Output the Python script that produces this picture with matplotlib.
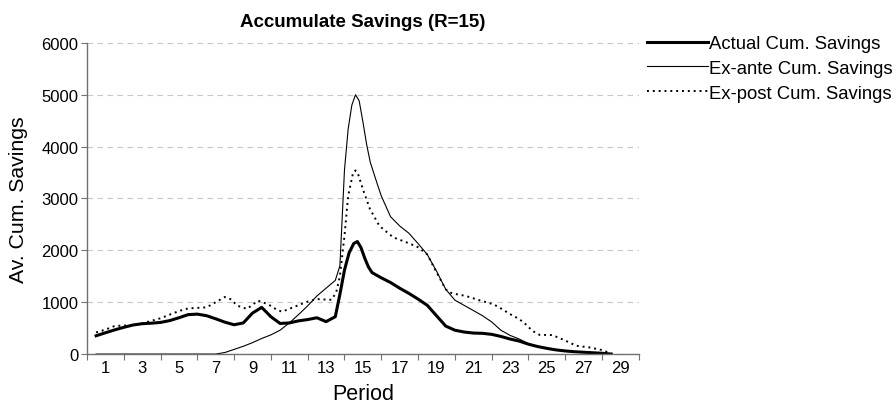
import matplotlib
matplotlib.use("Agg")
import matplotlib.pyplot as plt
from matplotlib.ticker import MultipleLocator, FixedLocator, NullFormatter

plt.rcParams["font.family"] = ["Liberation Sans", "DejaVu Sans"]

# --------------------------------------------------------
# Data
# --------------------------------------------------------
actual_x = [0.5, 1.0, 1.5, 2.0, 2.5, 3.0, 3.5, 4.0, 4.5, 5.0, 5.5, 6.0, 6.5,
            7.0, 7.5, 8.0, 8.5, 9.0, 9.5, 10.0, 10.5, 11.0, 11.5, 12.0, 12.5,
            13.0, 13.5, 13.75, 14.0, 14.25, 14.5, 14.7, 14.9, 15.1, 15.3,
            15.5, 16.0, 16.5, 17.0, 17.5, 18.0, 18.5, 19.0, 19.5, 20.0, 20.5,
            21.0, 21.5, 22.0, 22.5, 23.0, 23.5, 24.0, 24.5, 25.0, 25.5, 26.0,
            26.5, 27.0, 27.5, 28.0, 28.5]
actual_y = [353, 410, 465, 515, 560, 585, 595, 610, 645, 700, 760, 770, 740,
            680, 615, 565, 600, 790, 900, 720, 590, 600, 640, 665, 700,
            625, 720, 1150, 1620, 1950, 2130, 2170, 2050, 1850, 1680,
            1570, 1470, 1380, 1270, 1170, 1060, 940, 740, 540, 460, 425,
            405, 400, 380, 340, 290, 250, 190, 145, 110, 80, 60,
            45, 35, 25, 15, 0]

exante_x = [0.5, 7.0, 7.5, 8.0, 8.5, 9.0, 9.5, 10.0, 10.5, 11.0, 11.5, 12.0,
            12.5, 13.0, 13.5, 13.75, 14.0, 14.2, 14.4, 14.6, 14.8, 15.0,
            15.2, 15.4, 15.8, 16.0, 16.5, 17.0, 17.5, 18.0, 18.5, 19.0, 19.5,
            20.0, 20.5, 21.0, 21.5, 22.0, 22.5, 23.0, 23.5, 24.0, 24.5, 25.0,
            25.5, 26.0, 26.5, 27.0, 27.5, 28.0, 28.5]
exante_y = [0, 0, 30, 90, 150, 220, 300, 370, 460, 600, 760, 930,
            1120, 1270, 1420, 1700, 3550, 4340, 4800, 5000, 4880, 4480,
            4050, 3700, 3260, 3050, 2650, 2470, 2330, 2130, 1920, 1600, 1250,
            1040, 940, 840, 740, 620, 460, 360, 290, 200, 150, 110,
            80, 60, 45, 35, 25, 15, 0]

expost_x = [0.5, 1.0, 1.5, 2.0, 2.5, 3.0, 3.5, 4.0, 4.5, 5.0, 5.5, 6.0, 6.5,
            7.0, 7.5, 7.8, 8.2, 8.7, 9.3, 9.85, 10.3, 10.6, 11.2, 11.9, 12.5,
            13.0, 13.3, 13.55, 13.75, 14.0, 14.2, 14.47, 14.6, 14.74, 15.0,
            15.38, 15.9, 16.65, 17.4, 18.0, 18.5, 19.0, 19.5, 19.7, 20.0,
            20.6, 21.4, 22.1, 22.5, 23.0, 23.5, 23.9, 24.2, 24.6, 25.3, 25.9,
            26.6, 27.3, 28.0, 28.5]
expost_y = [418, 470, 540, 550, 560, 590, 640, 690, 760, 830, 880, 890, 900,
            1000, 1100, 1060, 930, 870, 1030, 960, 860, 816, 900, 1000, 1060,
            1050, 1047, 1190, 1500, 2280, 3050, 3500, 3540, 3470, 3180,
            2800, 2470, 2250, 2150, 2060, 1920, 1580, 1250, 1190, 1160,
            1120, 1030, 960, 880, 770, 675, 560, 450, 370, 366, 276,
            160, 129, 77, 10]

x_labels = list(range(1, 30, 2))

# --------------------------------------------------------
# Figure
# --------------------------------------------------------
fig = plt.figure(figsize=(8.96, 4.10), dpi=100)
ax = fig.add_axes([0.097, 0.134, 0.616, 0.759])

ax.plot(actual_x, actual_y, color="black", linewidth=2.2,
        label="Actual Cum. Savings")
ax.plot(exante_x, exante_y, color="black", linewidth=0.8,
        label="Ex-ante Cum. Savings")
ax.plot(expost_x, expost_y, color="black", linewidth=1.4,
        linestyle=(0, (1, 2)), label="Ex-post Cum. Savings")

ax.set_xlim(0, 30)
ax.set_ylim(0, 6000)

ax.xaxis.set_major_locator(MultipleLocator(2))
ax.xaxis.set_major_formatter(NullFormatter())
ax.xaxis.set_minor_locator(FixedLocator(x_labels))
ax.set_xticklabels([str(v) for v in x_labels], minor=True)
ax.tick_params(axis="x", which="major", direction="out", length=4,
               color="#707070")
ax.tick_params(axis="x", which="minor", length=0, labelsize=12, pad=4)
ax.yaxis.set_major_locator(MultipleLocator(1000))
ax.tick_params(axis="y", direction="out", length=4, color="#707070",
               labelsize=12, pad=2)

ax.grid(axis="y", color="#c8c8c8", linestyle=(0, (5, 4)), linewidth=0.8)
ax.set_axisbelow(True)

for side in ["top", "right"]:
    ax.spines[side].set_visible(False)
for side in ["left", "bottom"]:
    ax.spines[side].set_color("#707070")
    ax.spines[side].set_linewidth(1.0)

ax.set_xlabel("Period", fontsize=15.5, labelpad=6)
ax.set_ylabel("Av. Cum. Savings", fontsize=15.3, labelpad=10)
ax.set_title("Accumulate Savings (R=15)", fontsize=13.5, fontweight="bold",
             pad=12)

fig.legend(loc="upper left", bbox_to_anchor=(0.722, 0.912), frameon=False,
           fontsize=13.3, handlelength=3.3, handletextpad=0.05,
           labelspacing=0.42, borderaxespad=0, borderpad=0)

fig.savefig("out.png", dpi=100)
